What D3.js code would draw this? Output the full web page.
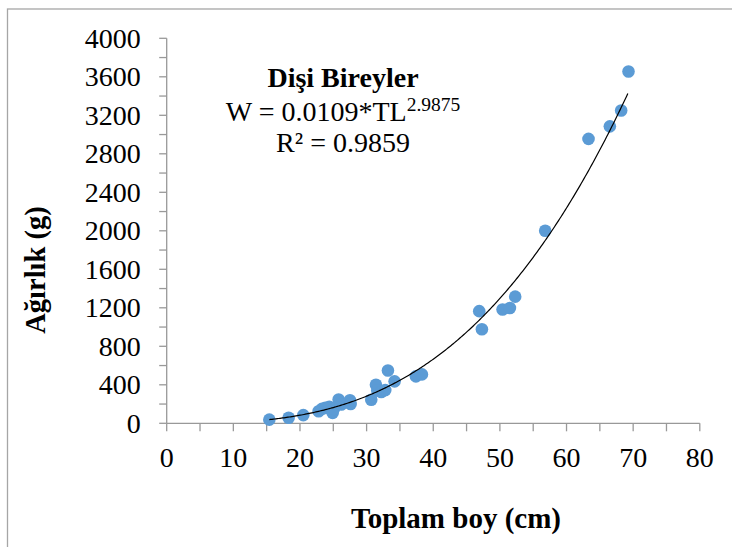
<!DOCTYPE html>
<html>
<head>
<meta charset="utf-8">
<script src="https://cdn.jsdelivr.net/npm/d3@7"></script>
<style>
  html, body { margin: 0; padding: 0; background: #fff; }
  svg { display: block; }
</style>
</head>
<body>
<svg id="chart" width="732" height="547"></svg>
<script>
// Data
const lengths = [15.4, 18.3, 20.5, 22.8, 23.3, 23.8, 24.4, 24.9, 25.1, 25.8, 26.2, 27.5, 27.6, 30.7, 31.4, 31.6, 32.2, 32.8, 33.2, 34.2, 37.4, 38.3, 46.9, 47.3, 50.4, 51.5, 52.3, 56.8, 63.3, 66.5, 68.2, 69.3];
const weights = [38, 58, 85, 125, 150, 160, 172, 108, 150, 248, 195, 240, 200, 245, 400, 340, 325, 345, 548, 436, 488, 508, 1165, 977, 1183, 1198, 1316, 2000, 2955, 3085, 3250, 3655];
const xTicks = [0, 10, 20, 30, 40, 50, 60, 70, 80];
const yTicks = [0, 400, 800, 1200, 1600, 2000, 2400, 2800, 3200, 3600, 4000];
const fitA = 0.0109, fitB = 2.9875, fitR2 = "0.9859";
const fitRange = [15.4, 69.2];
const titleText = "Dişi Bireyler";
const xTitle = "Toplam boy (cm)";
const yTitle = "Ağırlık (g)";

const FONT = "'Liberation Serif', 'Times New Roman', 'DejaVu Serif', serif";
const svg = d3.select("#chart").attr("font-family", FONT);

// outer border
svg.append("rect").attr("x", 7.5).attr("y", 9).attr("width", 800).attr("height", 600)
  .attr("fill", "none").attr("stroke", "#a6a6a6").attr("stroke-width", 1.3);

const x = d3.scaleLinear().domain([0, 80]).range([166.7, 699.8]);
const y = d3.scaleLinear().domain([0, 4000]).range([423.3, 38.3]);
const axisColor = "#999999";

function txt(sel) { return sel.append("text").attr("font-family", FONT).attr("fill", "#000"); }

// X axis
const gx = svg.append("g").attr("transform", `translate(0,${y(0)})`);
gx.append("line").attr("x1", x(0)).attr("x2", x(80)).attr("stroke", axisColor).attr("stroke-width", 1.3);
d3.range(0, 81, 5).forEach(v => {
  gx.append("line").attr("x1", x(v)).attr("x2", x(v)).attr("y1", 0).attr("y2", 8)
    .attr("stroke", axisColor).attr("stroke-width", 1.3);
});
xTicks.forEach(v => {
  txt(gx).attr("x", x(v)).attr("y", 44).attr("text-anchor", "middle")
    .attr("font-size", 28).text(v);
});

// Y axis
const gy = svg.append("g").attr("transform", `translate(${x(0)},0)`);
gy.append("line").attr("y1", y(0)).attr("y2", y(4000)).attr("stroke", axisColor).attr("stroke-width", 1.3);
d3.range(0, 4001, 200).forEach(v => {
  gy.append("line").attr("x1", -7.5).attr("x2", 0).attr("y1", y(v)).attr("y2", y(v))
    .attr("stroke", axisColor).attr("stroke-width", 1.3);
});
yTicks.forEach(v => {
  txt(gy).attr("x", -26).attr("y", y(v)).attr("dy", "0.34em").attr("text-anchor", "end")
    .attr("font-size", 28).text(v);
});

// points
svg.append("g").selectAll("circle").data(lengths).join("circle")
  .attr("cx", (d) => x(d)).attr("cy", (d, i) => y(weights[i])).attr("r", 6.3)
  .attr("fill", "#5b9bd5");

// trend line
const fitPts = d3.range(fitRange[0], fitRange[1] + 0.001, 0.2).map(t => [t, fitA * Math.pow(t, fitB)]);
svg.append("path").datum(fitPts)
  .attr("d", d3.line().x(d => x(d[0])).y(d => y(d[1])))
  .attr("fill", "none").attr("stroke", "#000").attr("stroke-width", 1.2);

// annotation
const cx = 343;
txt(svg).attr("x", cx).attr("y", 86.5).attr("text-anchor", "middle")
  .attr("font-size", 28).attr("font-weight", "bold").text(titleText);
const eq = txt(svg).attr("x", cx).attr("y", 121).attr("text-anchor", "middle").attr("font-size", 28);
eq.append("tspan").text("W = " + fitA.toFixed(4) + "*TL");
eq.append("tspan").attr("dy", -10).attr("font-size", 19.5).text(fitB.toFixed(4));
txt(svg).attr("x", cx).attr("y", 152).attr("text-anchor", "middle")
  .attr("font-size", 28).text("R² = " + fitR2);

// axis titles
txt(svg).attr("x", 456).attr("y", 528).attr("text-anchor", "middle")
  .attr("font-size", 29).attr("font-weight", "bold").text(xTitle);
txt(svg).attr("transform", "translate(45,270) rotate(-90)").attr("text-anchor", "middle")
  .attr("font-size", 28.5).attr("font-weight", "bold").text(yTitle);
</script>
</body>
</html>
